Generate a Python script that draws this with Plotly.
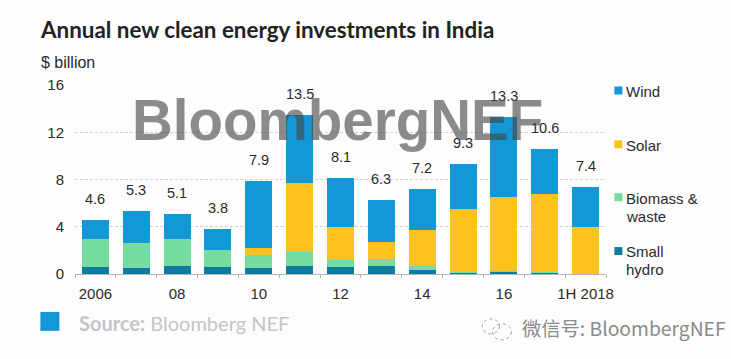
import plotly.graph_objects as go

categories = ["2006", "07", "08", "09", "10", "11", "12", "13", "14", "15", "16", "17", "1H 2018"]
small_hydro = [0.6, 0.5, 0.7, 0.6, 0.5, 0.7, 0.6, 0.65, 0.35, 0.15, 0.2, 0.15, 0.02]
biomass = [2.4, 2.15, 2.3, 1.4, 1.15, 1.2, 0.6, 0.6, 0.3, 0.05, 0.05, 0.05, 0.02]
solar = [0, 0, 0, 0, 0.55, 5.8, 2.8, 1.45, 3.05, 5.3, 6.3, 6.6, 3.9]
wind = [1.6, 2.65, 2.1, 1.8, 5.7, 5.8, 4.1, 3.6, 3.5, 3.8, 6.75, 3.8, 3.46]
totals = [4.6, 5.3, 5.1, 3.8, 7.9, 13.5, 8.1, 6.3, 7.2, 9.3, 13.3, 10.6, 7.4]

COL = {"Small hydro": "#0f7b9f", "Biomass & waste": "#75dd9f", "Solar": "#fcc21f", "Wind": "#1497d6"}
W, H = 731, 359
SANS = "Liberation Sans"
TXT = "#2b2b2b"

fig = go.Figure()
for name, vals in [("Small hydro", small_hydro), ("Biomass & waste", biomass), ("Solar", solar), ("Wind", wind)]:
    fig.add_bar(x=categories, y=vals, name=name, marker=dict(color=COL[name], line_width=0), width=0.66, showlegend=False)

ann = []
for i, t in enumerate(totals):
    ann.append(dict(x=i, y=t, text=f"{t:.1f}", showarrow=False, yshift=21, yanchor="middle", xanchor="center",
                    font=dict(family=SANS, size=14.5, color=TXT)))

def text(x, y, s, size=14, color=TXT, family=SANS, anchor="left", **kw):
    ann.append(dict(xref="paper", yref="paper", x=(x - 74.6) / 531, y=(274 - y) / 189.5, text=s, showarrow=False,
                    xanchor=anchor, yanchor="middle", align="left", font=dict(family=family, size=size, color=color),
                    borderpad=0, **kw))

text(39, 29, "<b>Annual new clean energy investments in India</b>", size=22.4, color="#222222", family="Lato")
text(40, 62, "$ billion", size=16)
text(625, 91, "Wind", size=15)
text(625, 145, "Solar", size=15)
text(625, 198, "Biomass &", size=15)
text(625, 216, "waste", size=15)
text(625, 251, "Small", size=15)
text(625, 269, "hydro", size=15)
text(78, 323, "<b>Source:</b> Bloomberg NEF", size=20, color="#c2c5c9", family="Lato")
text(521, 328, "微信号: BloombergNEF", size=19.3, color="#8a8a8a", family="Noto Sans CJK SC")
text(337.5, 120, "<b>BloombergNEF</b>", size=56.5, color="rgba(70,70,70,0.62)", anchor="center")

shapes = []
def box(x0, y0, x1, y1, color):
    shapes.append(dict(type="rect", xref="paper", yref="paper", x0=(x0 - 74.6) / 531, x1=(x1 - 74.6) / 531,
                       y0=(274 - y0) / 189.5, y1=(274 - y1) / 189.5, fillcolor=color, line_width=0))
box(614, 86, 622, 94, COL["Wind"])
box(614, 140, 622, 148, COL["Solar"])
box(614, 193, 622, 201, COL["Biomass & waste"])
box(614, 247, 622, 255, COL["Small hydro"])
box(40, 312, 59, 331, COL["Wind"])

def ring(x0, y0, x1, y1):
    shapes.append(dict(type="circle", xref="paper", yref="paper", x0=(x0 - 74.6) / 531, x1=(x1 - 74.6) / 531,
                       y0=(274 - y0) / 189.5, y1=(274 - y1) / 189.5, line=dict(color="#9a9a9a", width=1, dash="dot")))
ring(482, 319, 499, 334)
ring(492, 324, 511, 340)

fig.update_layout(
    width=W, height=H, barmode="stack", paper_bgcolor="#fdfdfe", plot_bgcolor="#fdfdfe",
    margin=dict(l=74.6, r=125.4, t=84.5, b=85, autoexpand=False), showlegend=False,
    annotations=ann, shapes=shapes,
    xaxis=dict(type="category", tickson="boundaries", ticks="outside", ticklen=3, tickcolor="#b5b5b5",
               ticklabelstep=2, showgrid=False, showline=True, linecolor="#b5b5b5", linewidth=1,
               tickfont=dict(family=SANS, size=15, color=TXT), tickangle=0, ticklabelstandoff=6),
    yaxis=dict(range=[0, 16], tickvals=[0, 4, 8, 12, 16], showgrid=True, griddash="3px,2px", gridcolor="#d2d2d2", gridwidth=1,
               zeroline=False, ticks="", ticklabelstandoff=10,
               tickfont=dict(family=SANS, size=15, color=TXT)),
)
fig.write_html("out.html", config={"displayModeBar": False},
               post_script="document.body.style.margin='0';document.body.style.background='#fdfdfe';")
